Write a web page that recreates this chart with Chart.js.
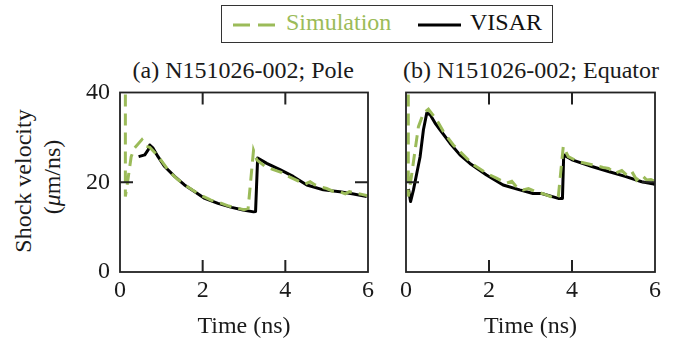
<!DOCTYPE html>
<html>
<head>
<meta charset="utf-8">
<script src="https://cdn.jsdelivr.net/npm/chart.js@4.4.0/dist/chart.umd.min.js"></script>
<style>
  body { margin: 0; background: #fff; width: 682px; height: 344px; position: relative; overflow: hidden;
         font-family: 'Liberation Serif', 'DejaVu Serif', serif; color: #1a1a1a; }
  canvas { position: absolute; }
  .txt { position: absolute; font-size: 24px; white-space: nowrap; }
  .ylab { position: absolute; width: 220px; height: 30px; line-height: 30px; text-align: center;
          font-size: 24px; transform: rotate(-90deg); }
  #legend { position: absolute; left: 221px; top: 5px; width: 330px; height: 36px;
            border: 1.5px solid #333; }
</style>
</head>
<body>
<div id="legend">
  <svg width="330" height="36" style="position:absolute;left:0;top:0">
    <line x1="11" y1="19" x2="54" y2="19" stroke="#9bbb59" stroke-width="3" stroke-dasharray="17 8"/>
    <line x1="196" y1="19" x2="239" y2="19" stroke="#000" stroke-width="3"/>
  </svg>
  <span class="txt" style="left:64px;top:3px;color:#9bbb59">Simulation</span>
  <span class="txt" style="left:248px;top:3px;color:#111">VISAR</span>
</div>
<div class="txt" id="titleA" style="top:57px;">(a) N151026-002; Pole</div>
<div class="txt" id="titleB" style="top:57px;">(b) N151026-002; Equator</div>
<div class="ylab" style="left:-87px;top:166px;">Shock velocity</div>
<div class="ylab" style="left:-58px;top:162px;">(<i>μ</i>m/ns)</div>
<canvas id="pole" width="380" height="264" style="left:0;top:80px"></canvas>
<canvas id="equator" width="302" height="264" style="left:380px;top:80px"></canvas>
<script>
// values
const timeTicks = [0, 2, 4, 6];
const velTicks = [0, 20, 40];

const simPoleT = [0.13, 0.13, 0.19, 0.27, 0.35, 0.53, 0.64, 0.72, 0.85, 1.0, 1.2, 1.4, 1.6, 1.8, 2.0, 2.2, 2.4, 2.6, 2.8, 3.0, 3.1, 3.23, 3.31, 3.5, 3.71, 3.9, 4.1, 4.35, 4.48, 4.6, 4.72, 4.84, 5.0, 5.15, 5.32, 5.45, 5.55, 5.7, 5.85, 6.0];
const simPoleV = [48, 16.8, 20.5, 25.7, 27.6, 29.5, 28.0, 27.8, 26.5, 24.8, 22.3, 20.6, 19.2, 18.0, 16.9, 16.0, 15.5, 14.8, 14.3, 13.9, 14.2, 27.1, 25.0, 23.6, 22.8, 22.2, 21.2, 20.1, 19.6, 20.1, 19.4, 19.0, 18.6, 18.0, 17.9, 17.4, 17.9, 17.6, 17.3, 17.0];

const visarPoleT = [0.45, 0.6, 0.68, 0.72, 0.8, 0.92, 1.08, 1.32, 1.56, 1.81, 2.05, 2.37, 2.7, 2.98, 3.23, 3.28, 3.33, 3.55, 3.87, 4.19, 4.52, 4.92, 5.32, 5.65, 5.97];
const visarPoleV = [25.7, 26.1, 27.2, 28.3, 27.6, 25.7, 23.5, 21.3, 19.4, 17.9, 16.4, 15.3, 14.4, 13.8, 13.4, 13.5, 25.4, 24.2, 22.8, 21.3, 19.4, 18.3, 17.9, 17.4, 16.8];

const simEqT = [0.055, 0.055, 0.13, 0.22, 0.30, 0.42, 0.54, 0.74, 0.9, 1.14, 1.38, 1.62, 1.94, 2.18, 2.42, 2.55, 2.66, 2.82, 2.95, 3.13, 3.35, 3.59, 3.67, 3.79, 3.91, 4.15, 4.48, 4.75, 4.88, 5.04, 5.2, 5.32, 5.44, 5.56, 5.68, 5.8, 5.9, 6.0];
const simEqV = [48, 16.8, 21.3, 27.2, 32.4, 35.4, 36.3, 33.9, 31.3, 28.3, 26.1, 23.9, 22.0, 20.9, 19.8, 20.2, 19.0, 18.3, 18.6, 17.9, 17.3, 16.4, 16.8, 28.0, 25.7, 24.6, 23.9, 23.3, 23.1, 22.0, 22.6, 21.6, 22.4, 20.5, 21.6, 20.5, 20.6, 20.2];

const visarEqT = [0.06, 0.11, 0.18, 0.26, 0.34, 0.42, 0.5, 0.58, 0.7, 0.82, 1.06, 1.3, 1.54, 1.94, 2.34, 2.74, 3.06, 3.27, 3.67, 3.77, 3.8, 4.0, 4.48, 4.88, 5.28, 5.68, 5.97, 6.0];
const visarEqV = [18.5, 15.7, 18.3, 22.0, 25.7, 31.7, 35.4, 35.1, 33.2, 31.7, 28.7, 26.1, 24.2, 21.6, 19.4, 18.3, 17.5, 17.5, 16.4, 16.4, 26.1, 25.0, 23.5, 22.4, 21.3, 20.1, 19.6, 19.5];

const GREEN = '#9bbb59';
const INK = '#222';

Chart.defaults.font.family = "'Liberation Serif', serif";
Chart.defaults.font.size = 24;
Chart.defaults.color = '#1a1a1a';

function pts(t, v) {
    return t.map((x, i) => ({ x: x, y: v[i] }));
}

// box around the plot area plus inward-pointing ticks
const frame = {
    id: 'frame',
    afterDraw(chart) {
        const { ctx, chartArea: a, scales } = chart;
        ctx.save();
        ctx.strokeStyle = INK;
        ctx.lineWidth = 1.8;
        ctx.strokeRect(a.left, a.top, a.right - a.left, a.bottom - a.top);
        ctx.lineWidth = 2;
        ctx.beginPath();
        timeTicks.slice(1, -1).forEach(t => {
            const px = scales.x.getPixelForValue(t);
            ctx.moveTo(px, a.bottom); ctx.lineTo(px, a.bottom - 12);
            ctx.moveTo(px, a.top); ctx.lineTo(px, a.top + 12);
        });
        velTicks.slice(1, -1).forEach(v => {
            const py = scales.y.getPixelForValue(v);
            ctx.moveTo(a.left, py); ctx.lineTo(a.left + 13, py);
            ctx.moveTo(a.right, py); ctx.lineTo(a.right - 13, py);
        });
        ctx.stroke();
        ctx.restore();
    }
};

function makeChart(id, sim, visar, yWidth, padRight, showY) {
    return new Chart(document.getElementById(id), {
        type: 'line',
        data: {
            datasets: [{
                label: 'Simulation',
                data: sim,
                borderColor: GREEN,
                borderWidth: 3,
                borderDash: [12, 7],
                pointRadius: 0,
                tension: 0,
                order: 0
            }, {
                label: 'VISAR',
                data: visar,
                borderColor: '#000',
                borderWidth: 3,
                pointRadius: 0,
                tension: 0,
                borderJoinStyle: 'round',
                order: 1
            }]
        },
        options: {
            responsive: false,
            animation: false,
            layout: { padding: { left: 0, right: padRight, top: 12.5, bottom: 0 } },
            plugins: { legend: { display: false }, tooltip: { enabled: false } },
            scales: {
                x: {
                    type: 'linear',
                    min: 0, max: 6,
                    afterBuildTicks: s => { s.ticks = timeTicks.map(v => ({ value: v })); },
                    afterFit: s => { s.height = 72; s.paddingLeft = 0; s.paddingRight = 0; },
                    grid: { display: false, drawTicks: false },
                    border: { display: false },
                    ticks: { padding: 4, maxRotation: 0 },
                    title: { display: true, text: 'Time (ns)', padding: { top: 0, bottom: 3 } }
                },
                y: {
                    min: 0, max: 40,
                    afterBuildTicks: s => { s.ticks = velTicks.map(v => ({ value: v })); },
                    afterFit: s => { s.width = yWidth; s.paddingTop = 0; s.paddingBottom = 0; },
                    grid: { display: false, drawTicks: false },
                    border: { display: false },
                    ticks: { display: showY, padding: 10 }
                }
            }
        },
        plugins: [frame]
    });
}

makeChart('pole', pts(simPoleT, simPoleV), pts(visarPoleT, visarPoleV), 120, 12, true);
makeChart('equator', pts(simEqT, simEqV), pts(visarEqT, visarEqV), 26, 27, false);

// centre the panel titles over the plot areas
const tA = document.getElementById('titleA');
const tB = document.getElementById('titleB');
tA.style.left = (243 - tA.offsetWidth / 2) + 'px';
tB.style.left = (531 - tB.offsetWidth / 2) + 'px';
</script>
</body>
</html>
